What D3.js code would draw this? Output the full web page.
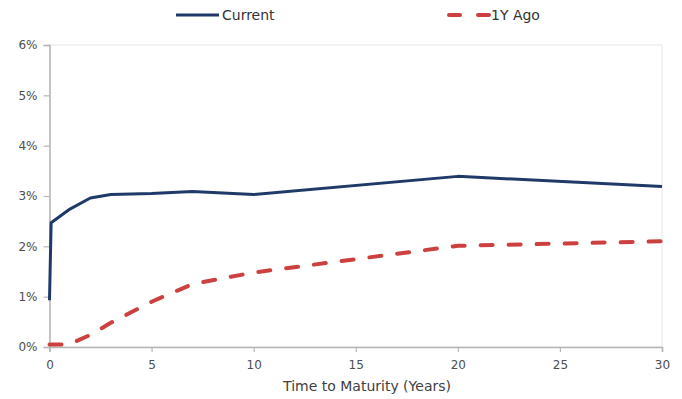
<!DOCTYPE html>
<html><head><meta charset="utf-8">
<script src="https://cdn.jsdelivr.net/npm/d3@7"></script>
<style>
body{margin:0;background:#fff;}
text{font-family:"DejaVu Sans",sans-serif;}
</style></head>
<body><svg id="c" width="682" height="399"></svg>
<script>
const currentX = [0, 0.08, 1, 2, 3, 5, 7, 10, 20, 30];
const currentY = [0.93, 2.47, 2.74, 2.96, 3.03, 3.05, 3.09, 3.03, 3.39, 3.19];
const agoX = [0, 0.5, 1, 2, 3, 5, 7, 10, 20, 30];
const agoY = [0.05, 0.05, 0.06, 0.24, 0.48, 0.9, 1.25, 1.48, 2.01, 2.1];
const xTicks = [0, 5, 10, 15, 20, 25, 30];
const yTicks = [0, 1, 2, 3, 4, 5, 6];
const seriesNames = ["Current", "1Y Ago"];
const xTitle = "Time to Maturity  (Years)";

const svg = d3.select("#c");
const L = 49.5, R = 662, T = 45, B = 347;
const x = d3.scaleLinear().domain([0, 30]).range([L, R]);
const y = d3.scaleLinear().domain([0, 6]).range([B, T]);

// plot area border
svg.append("rect").attr("x", L).attr("y", T).attr("width", R - L).attr("height", B - T)
  .attr("fill", "none").attr("stroke", "#e6e6e6").attr("stroke-width", 1);

const xa = svg.append("g").attr("transform", `translate(0,${B})`)
  .call(d3.axisBottom(x).tickValues(xTicks).tickSize(5).tickPadding(8).tickFormat(d3.format("d")));
const ya = svg.append("g").attr("transform", `translate(${L},0)`)
  .call(d3.axisLeft(y).tickValues(yTicks).tickSize(6).tickPadding(6).tickFormat(d => d + "%"));
[xa, ya].forEach(a => {
  a.select(".domain").attr("stroke", "#b5b5b5").attr("stroke-width", 1.5);
  a.selectAll(".tick line").attr("stroke", "#b5b5b5").attr("stroke-width", 1.2);
  a.selectAll("text").attr("fill", "#4d4d4d").style("font-size", "12px");
});

svg.append("text").attr("x", 367).attr("y", 391).attr("text-anchor", "middle")
  .attr("fill", "#404040").style("font-size", "14px").text(xTitle);

const line = d3.line().x(d => x(d[0])).y(d => y(d[1]));
svg.append("path").datum(agoX.map((v, i) => [v, agoY[i]]))
  .attr("d", line).attr("fill", "none").attr("stroke", "#cc4040")
  .attr("stroke-width", 4).attr("stroke-dasharray", "12,16").attr("stroke-linecap", "round");
svg.append("path").datum(currentX.map((v, i) => [v, currentY[i]]))
  .attr("d", line).attr("fill", "none").attr("stroke", "#1f3a68")
  .attr("stroke-width", 3).attr("stroke-linejoin", "round");

// legend
const lg = svg.append("g");
lg.append("line").attr("x1", 176).attr("x2", 219).attr("y1", 15).attr("y2", 15)
  .attr("stroke", "#1f3a68").attr("stroke-width", 3);
lg.append("text").attr("x", 222).attr("y", 20).attr("fill", "#333").style("font-size", "14px").text(seriesNames[0]);
lg.append("line").attr("x1", 447).attr("x2", 490).attr("y1", 15).attr("y2", 15)
  .attr("stroke", "#cc4040").attr("stroke-width", 4).attr("stroke-dasharray", "11,18").attr("stroke-dashoffset", -2).attr("stroke-linecap", "round");
lg.append("text").attr("x", 491).attr("y", 20).attr("fill", "#333").style("font-size", "14px").text(seriesNames[1]);
</script></body></html>
